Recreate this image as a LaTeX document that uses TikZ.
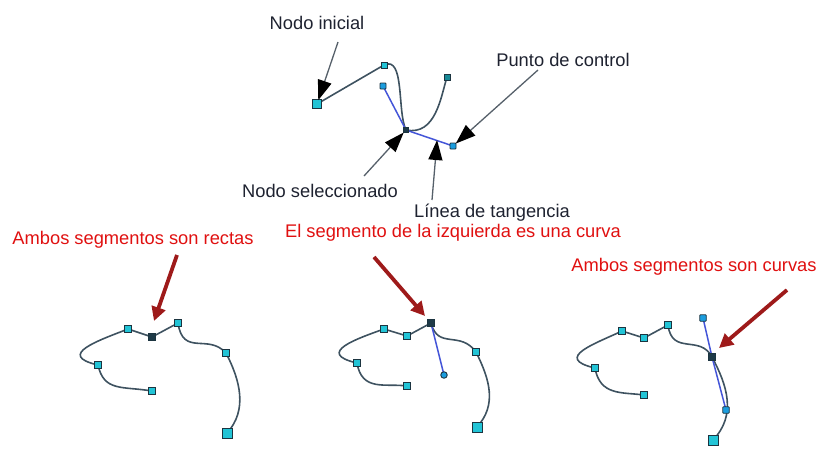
\documentclass[tikz,border=0pt]{standalone}
\usepackage{fontspec}
\setmainfont{Liberation Sans}
\usetikzlibrary{arrows.meta}
\definecolor{curvecol}{HTML}{3E5260}
\definecolor{tancol}{HTML}{4455D8}
\definecolor{nodefill}{HTML}{22C4D6}
\definecolor{nodedraw}{HTML}{1C3440}
\definecolor{selfill}{HTML}{1E3A48}
\definecolor{txtcol}{HTML}{1E2230}
\definecolor{redtxt}{HTML}{E01010}
\definecolor{redarrow}{HTML}{9E1A1A}
\definecolor{grayline}{HTML}{56606A}
\begin{document}
\begin{tikzpicture}[x=1pt,y=-1pt,
  lbl/.style={font=\fontsize{18.3}{22}\selectfont,text=txtcol,inner sep=0pt},
  redlbl/.style={font=\fontsize{18.3}{22}\selectfont,text=redtxt,inner sep=0pt},
  pt/.style={draw=nodedraw,fill=nodefill,line width=0.9pt,minimum size=7.5pt,inner sep=0pt,rectangle},
  bigpt/.style={pt,minimum size=10pt},
  smallpt/.style={pt,minimum size=6pt},
  selpt/.style={pt,fill=selfill},
  ctrlpt/.style={pt,minimum size=6pt,rounded corners=0.8pt,fill=nodefill!80!blue},
  curve/.style={draw=curvecol,line width=1.6pt},
  tangent/.style={draw=tancol,line width=1.5pt},
  callout/.style={draw=grayline,line width=1.3pt,-{Triangle[length=20pt,width=14pt,color=black]},shorten >=-1pt},
  redarr/.style={draw=redarrow,line width=3.8pt,-{Triangle[length=14pt,width=14pt]}}
]
\useasboundingbox (0,0) rectangle (830,464);

% ---------- top diagram ----------
\coordinate (ti) at (317,104);
\coordinate (t1) at (384,65);
\coordinate (ts) at (406,130);
\coordinate (t3) at (447,77);
\coordinate (tc1) at (383,86);
\coordinate (tc2) at (453,146);
\draw[curve] (ti) -- (t1);
\draw[curve] (t1) .. controls (405,55) and (397,112) .. (ts);
\draw[curve] (ts) .. controls (436,136) and (441,96) .. (t3);
\draw[tangent] (tc1) -- (ts) -- (tc2);
\node[bigpt,minimum size=8.5pt] (nti) at (ti) {};
\node[smallpt] (nt1) at (t1) {};
\node[smallpt,fill=nodefill!70!black] (nt3) at (t3) {};
\node[selpt,minimum size=5.5pt] (nts) at (ts) {};
\node[ctrlpt] (ntc1) at (tc1) {};
\node[ctrlpt] (ntc2) at (tc2) {};

\node[lbl] (lab1) at (317,23) {Nodo inicial};
\node[lbl] (lab2) at (563,60) {Punto de control};
\node[lbl] (lab3) at (320,191) {Nodo seleccionado};
\node[lbl] (lab4) at (492,213) {Línea de tangencia};
\coordinate (s1) at (338,42);
\coordinate (s2) at (538,70);
\coordinate (s3) at (364,176);
\coordinate (s4) at (432,200);
\coordinate (tl) at (437,141);
\draw[callout] (s1) -- (nti);
\draw[callout] (s2) -- (ntc2);
\draw[callout] (s3) -- (nts);
\draw[callout] (s4) -- (tl);

% ---------- left shape ----------
\coordinate (L1) at (152,391);
\coordinate (L2) at (98,365);
\coordinate (L3) at (128,329);
\coordinate (L4) at (152,337);
\coordinate (L5) at (178,323);
\coordinate (L6) at (226,353);
\coordinate (L7) at (227,433);
\draw[curve] (L1) .. controls (122,386) and (104,392) .. (L2)
  .. controls (55,355) and (100,340) .. (L3) -- (L4) -- (L5)
  .. controls (183,357) and (208,333) .. (L6)
  .. controls (240,380) and (248,410) .. (L7);
\node[pt] (nL1) at (L1) {};
\node[pt] (nL2) at (L2) {};
\node[pt] (nL3) at (L3) {};
\node[selpt] (nL4) at (L4) {};
\node[pt] (nL5) at (L5) {};
\node[pt] (nL6) at (L6) {};
\node[bigpt] (nL7) at (L7) {};

% ---------- middle shape ----------
\coordinate (M1) at (407,386);
\coordinate (M2) at (357,363);
\coordinate (M3) at (384,329);
\coordinate (M4) at (407,336);
\coordinate (M5) at (431,323);
\coordinate (M6) at (476,352);
\coordinate (M7) at (477,427);
\coordinate (Mc) at (444,375);
\draw[curve] (M1) .. controls (385,383) and (362,392) .. (M2)
  .. controls (314,353) and (359,338) .. (M3) -- (M4) -- (M5)
  .. controls (438,350) and (460,330) .. (M6)
  .. controls (490,380) and (497,405) .. (M7);
\draw[tangent] (M5) -- (Mc);
\node[pt] (nM1) at (M1) {};
\node[pt] (nM2) at (M2) {};
\node[pt] (nM3) at (M3) {};
\node[pt] (nM4) at (M4) {};
\node[selpt] (nM5) at (M5) {};
\node[pt] (nM6) at (M6) {};
\node[bigpt] (nM7) at (M7) {};
\node[ctrlpt,circle,minimum size=6.5pt] (nMc) at (Mc) {};

% ---------- right shape ----------
\coordinate (R1) at (644,395);
\coordinate (R2) at (595,368);
\coordinate (R3) at (622,331);
\coordinate (R4) at (644,338);
\coordinate (R5) at (668,325);
\coordinate (R6) at (712,357);
\coordinate (R7) at (713,440);
\coordinate (Rc1) at (703,318);
\coordinate (Rc2) at (726,410);
\draw[curve] (R1) .. controls (622,392) and (600,396) .. (R2)
  .. controls (552,358) and (597,343) .. (R3) -- (R4) -- (R5)
  .. controls (672,356) and (700,334) .. (R6)
  .. controls (727,385) and (737,415) .. (R7);
\draw[tangent] (Rc1) -- (R6) -- (Rc2);
\node[pt] (nR1) at (R1) {};
\node[pt] (nR2) at (R2) {};
\node[pt] (nR3) at (R3) {};
\node[pt] (nR4) at (R4) {};
\node[pt] (nR5) at (R5) {};
\node[selpt] (nR6) at (R6) {};
\node[bigpt] (nR7) at (R7) {};
\node[ctrlpt,minimum size=6.5pt] (nRc1) at (Rc1) {};
\node[ctrlpt,minimum size=6.5pt] (nRc2) at (Rc2) {};

% ---------- red labels and arrows ----------
\node[redlbl] (rl1) at (133,240) {Ambos segmentos son rectas};
\node[redlbl] (rl2) at (453,233) {El segmento de la izquierda es una curva};
\node[redlbl] (rl3) at (694,267) {Ambos segmentos son curvas};
\coordinate (r1s) at (177,255);
\coordinate (r1e) at (154,321);
\coordinate (r2s) at (374,257);
\coordinate (r2e) at (425,316);
\coordinate (r3s) at (787,290);
\coordinate (r3e) at (719,348);
\draw[redarr] (r1s) -- (r1e);
\draw[redarr] (r2s) -- (r2e);
\draw[redarr] (r3s) -- (r3e);
\end{tikzpicture}
\end{document}
